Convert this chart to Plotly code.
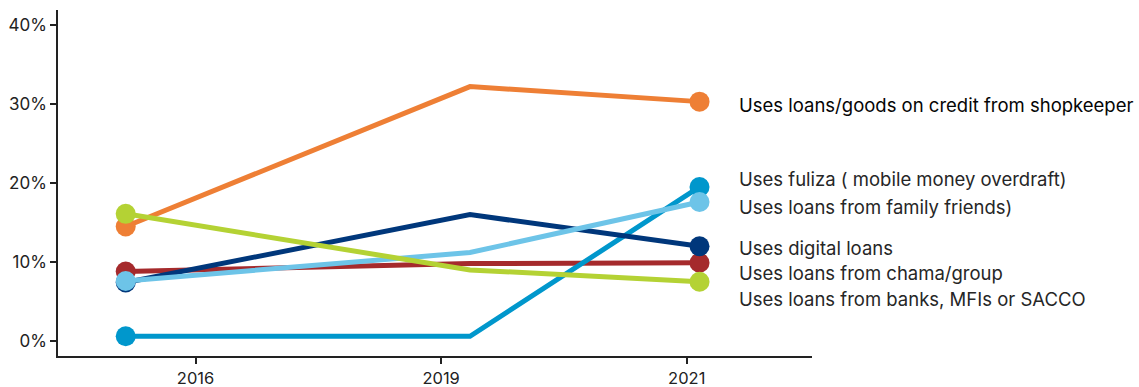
import plotly.graph_objects as go

# Survey years shown on the axis
years = [2016, 2019, 2021]
year_labels = ["2016", "2019", "2021"]

# Share of respondents (%) per loan source
shopkeeper = [14.5, 32.2, 30.3]
banks = [16.1, 9.0, 7.5]
chama = [8.8, 9.8, 9.9]
fuliza = [0.6, 0.6, 19.5]
digital = [7.4, 16.0, 12.0]
family = [7.6, 11.2, 17.6]

y_ticks = [0, 10, 20, 30, 40]

names = [
    "Uses loans from chama/group",
    "Uses fuliza ( mobile money overdraft)",
    "Uses digital loans",
    "Uses loans from family friends)",
    "Uses loans/goods on credit from shopkeeper",
    "Uses loans from banks, MFIs or SACCO",
]
series = [chama, fuliza, digital, family, shopkeeper, banks]
colors = ["#A52A2C", "#0097CC", "#00377B", "#6DC4E8", "#EE7F35", "#B4D234"]

# label vertical positions (value units) beside the 2021 markers
label_y = [8.6, 20.5, 11.8, 17.0, 29.9, 5.3]
label_colors = ["#262626", "#262626", "#262626", "#262626", "#050505", "#262626"]

fig = go.Figure()

# invisible trace that carries the category tick axis
fig.add_trace(go.Scatter(
    x=year_labels, y=[None] * len(year_labels), mode="lines",
    showlegend=False, hoverinfo="skip", xaxis="x2", yaxis="y",
))

for name, vals, col in zip(names, series, colors):
    fig.add_trace(go.Scatter(
        x=years, y=vals, name=name, mode="lines+markers",
        line=dict(color=col, width=5),
        # markers only at the first and last survey year
        marker=dict(color=col, size=[20, 0, 20], opacity=1, line=dict(width=0)),
        showlegend=False, xaxis="x", yaxis="y",
    ))

for name, ly, lc in zip(names, label_y, label_colors):
    fig.add_annotation(
        x=0.9005, xref="paper", y=ly, yref="y", text=name,
        showarrow=False, xanchor="left", yanchor="middle",
        font=dict(size=18.5, color=lc),
    )

font_family = "Inter, Roboto, sans-serif"
fig.update_layout(
    width=1139, height=387,
    margin=dict(l=58, r=327, t=10, b=31, autoexpand=False),
    paper_bgcolor="white", plot_bgcolor="white",
    font=dict(family=font_family, size=16, color="#222222"),
    xaxis=dict(range=[2015.41, 2021.98], visible=False, fixedrange=True,
               automargin=False),
    xaxis2=dict(
        overlaying="x", anchor="y", side="bottom", type="category",
        categoryorder="array", categoryarray=year_labels,
        range=[-0.56, 2.51], automargin=False,
        showline=True, linecolor="#222222", linewidth=1.5,
        ticks="outside", ticklen=6, tickcolor="#222222", tickwidth=1.5,
        ticklabelstandoff=0,
        showgrid=False, zeroline=False,
        tickfont=dict(size=16.5, color="#222222"),
    ),
    yaxis=dict(
        range=[-1.9, 41.9], tickmode="array", automargin=False,
        tickvals=y_ticks, ticktext=[f"{v}%" for v in y_ticks],
        showline=True, linecolor="#222222", linewidth=1.5,
        ticks="outside", ticklen=6, tickcolor="#222222", tickwidth=1.5,
        showgrid=False, zeroline=False,
        tickfont=dict(size=17, color="#222222"),
    ),
)

fig.write_html("out.html")
